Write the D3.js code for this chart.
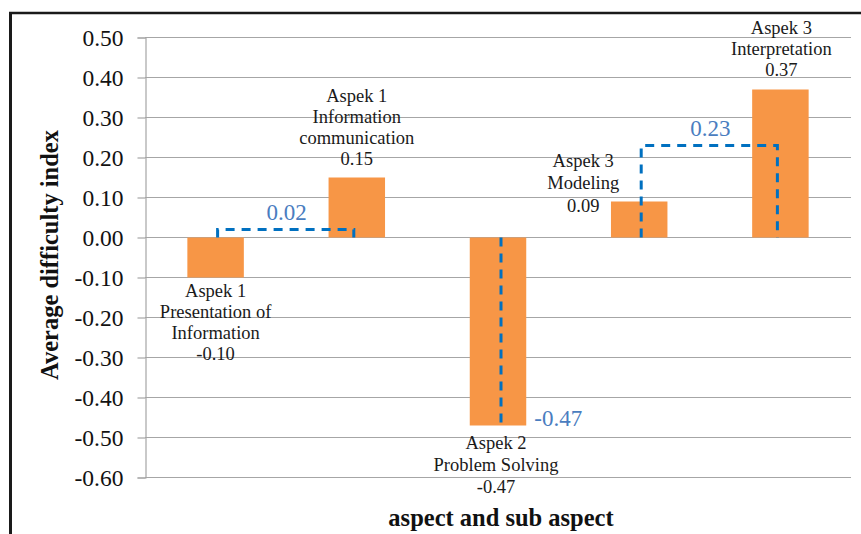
<!DOCTYPE html>
<html>
<head>
<meta charset="utf-8">
<script src="https://cdn.jsdelivr.net/npm/d3@7"></script>
<style>
  html, body { margin: 0; padding: 0; background: #fff; }
  svg { display: block; }
</style>
</head>
<body>
<svg id="chart" width="861" height="534"></svg>
<script>
// Sub-aspect categories and their average difficulty index
const categories = ["P1", "C1", "S2", "M3", "I3"];
const values = [-0.10, 0.15, -0.47, 0.09, 0.37];
const labelLines = [
  ["Aspek 1", "Presentation of", "Information", "-0.10"],
  ["Aspek 1", "Information", "communication", "0.15"],
  ["Aspek 2", "Problem Solving", "-0.47"],
  ["Aspek 3", "Modeling", "0.09"],
  ["Aspek 3", "Interpretation", "0.37"]
];
const yTicks = [0.5, 0.4, 0.3, 0.2, 0.1, 0.0, -0.1, -0.2, -0.3, -0.4, -0.5, -0.6];

// Dashed comparison brackets between pairs of sub-aspects
const bracketFrom = ["P1", "M3"];
const bracketTo = ["C1", "I3"];
const bracketValues = [0.02, 0.23];
const bracketLabels = ["0.02", "0.23"];
// Dashed drop line on a single sub-aspect
const dropCategory = "S2";
const dropValue = -0.47;
const dropLabel = "-0.47";

// Label placement per bar: horizontal shift, first-baseline offset from bar end, line spacing
const labelLayout = [
  { dx: 0, dy: 19.5, lh: 21 },
  { dx: 0, dy: -13, lh: 21 },
  { dx: -2, dy: 23.5, lh: 22 },
  { dx: -56, dy: -34.5, lh: 21.5 },
  { dx: 1, dy: -13.5, lh: 21 }
];

const SERIF = "'Liberation Serif', 'Times New Roman', Tinos, serif";

const svg = d3.select("#chart");
const plot = { left: 145, right: 851, top: 37.5, bottom: 477.5 };

const x = d3.scaleBand()
  .domain(categories)
  .range([plot.left, plot.right])
  .paddingInner(0.6)
  .paddingOuter(0.3);

const y = d3.scaleLinear()
  .domain([-0.6, 0.5])
  .range([plot.bottom, plot.top]);

const fmt = d3.formatLocale({ decimal: ".", thousands: ",", grouping: [3], currency: ["", ""], minus: "-" }).format(".2f");

// Outer frame (left and top edges)
svg.append("line")
  .attr("x1", 10.5).attr("x2", 10.5).attr("y1", 12).attr("y2", 534)
  .attr("stroke", "#1a1a1a").attr("stroke-width", 3);
svg.append("line")
  .attr("x1", 9).attr("x2", 861).attr("y1", 13).attr("y2", 13)
  .attr("stroke", "#1a1a1a").attr("stroke-width", 2.5);

// Horizontal gridlines
svg.append("g")
  .selectAll("line")
  .data(yTicks)
  .join("line")
  .attr("x1", plot.left).attr("x2", plot.right)
  .attr("y1", d => y(d)).attr("y2", d => y(d))
  .attr("stroke", "#a6a6a6").attr("stroke-width", 1.2);

// Y axis with tick labels
const yAxis = svg.append("g")
  .attr("transform", `translate(${plot.left + 0.5},0)`)
  .call(d3.axisLeft(y).tickValues(yTicks).tickFormat(fmt).tickSize(8).tickPadding(14));
yAxis.select(".domain").attr("stroke", "#a6a6a6").attr("stroke-width", 1.2);
yAxis.selectAll(".tick line").attr("stroke", "#a6a6a6").attr("stroke-width", 1.2);
yAxis.selectAll(".tick text")
  .style("font-family", SERIF)
  .style("font-size", "23.5px")
  .attr("fill", "#111");

// Bars
svg.append("g")
  .selectAll("rect")
  .data(categories)
  .join("rect")
  .attr("x", d => x(d))
  .attr("width", x.bandwidth())
  .attr("y", (d, i) => y(Math.max(0, values[i])))
  .attr("height", (d, i) => Math.abs(y(values[i]) - y(0)))
  .attr("fill", "#F79646");

// Bar labels: above positive bars, below negative bars
const lblG = svg.append("g");
categories.forEach((c, i) => {
  const L = labelLayout[i];
  const lines = labelLines[i];
  const cx = x(c) + x.bandwidth() / 2 + L.dx;
  const firstBaseline = values[i] >= 0 && i !== 3
    ? y(values[i]) + L.dy - L.lh * (lines.length - 1)
    : y(values[i]) + L.dy;
  const t = lblG.append("text")
    .attr("text-anchor", "middle")
    .style("font-family", SERIF)
    .style("font-size", "18.5px")
    .attr("fill", "#1a1a1a");
  lines.forEach((s, k) => {
    t.append("tspan")
      .attr("x", cx)
      .attr("y", firstBaseline + k * L.lh + (i === 3 && k === lines.length - 1 ? 1.5 : 0))
      .text(s);
  });
});

// Dashed brackets
const blue = "#0070C0";
const labelBlue = "#4a7dbf";
const dash = "9,7";
bracketFrom.forEach((f, i) => {
  const x1 = x(f) + x.bandwidth() / 2 + 2;
  const x2 = x(bracketTo[i]) + x.bandwidth() / 2 - 3;
  const yv = y(bracketValues[i]);
  svg.append("path")
    .attr("d", `M${x1},${y(0)}V${yv}H${x2}V${y(0)}`)
    .attr("fill", "none")
    .attr("stroke", blue)
    .attr("stroke-width", 3)
    .attr("stroke-dasharray", dash);
  svg.append("text")
    .attr("x", (x1 + x2) / 2 + 1)
    .attr("y", yv - 10)
    .attr("text-anchor", "middle")
    .style("font-family", SERIF)
    .style("font-size", "23px")
    .attr("fill", labelBlue)
    .text(bracketLabels[i]);
});

// Dashed drop line
const xd = x(dropCategory) + x.bandwidth() / 2 + 3;
svg.append("line")
  .attr("x1", xd).attr("x2", xd)
  .attr("y1", y(0)).attr("y2", y(dropValue))
  .attr("stroke", blue)
  .attr("stroke-width", 3)
  .attr("stroke-dasharray", dash);
svg.append("text")
  .attr("x", x(dropCategory) + x.bandwidth() + 8)
  .attr("y", y(dropValue) + 0.5)
  .style("font-family", SERIF)
  .style("font-size", "23px")
  .attr("fill", labelBlue)
  .text(dropLabel);

// Axis titles
svg.append("text")
  .attr("transform", "translate(58,255) rotate(-90)")
  .attr("text-anchor", "middle")
  .style("font-family", SERIF)
  .style("font-size", "24.5px")
  .style("font-weight", "bold")
  .attr("fill", "#111")
  .text("Average difficulty index");

svg.append("text")
  .attr("x", 501)
  .attr("y", 526)
  .attr("text-anchor", "middle")
  .style("font-family", SERIF)
  .style("font-size", "24.5px")
  .style("font-weight", "bold")
  .attr("fill", "#111")
  .text("aspect and sub aspect");
</script>
</body>
</html>
